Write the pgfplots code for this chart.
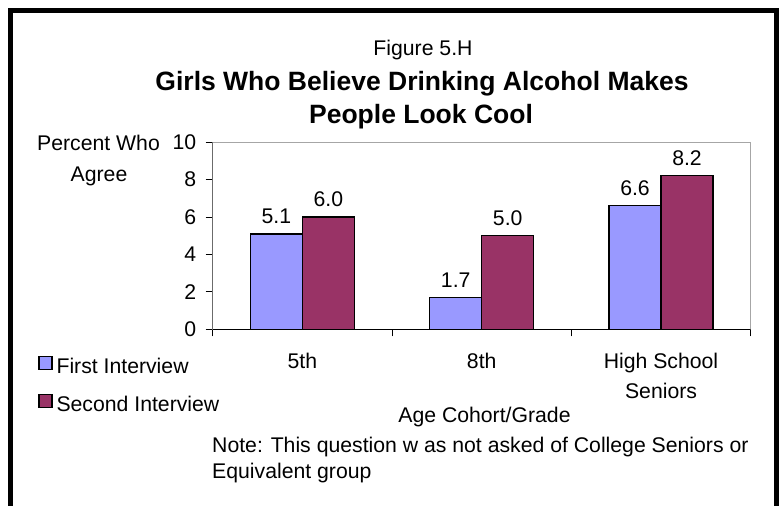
\documentclass[border=0pt]{standalone}
\usepackage{pgfplots}
\pgfplotsset{compat=1.18}
\usepackage{fontspec}
\setmainfont{Liberation Sans}
\definecolor{bluebar}{HTML}{9999FF}
\definecolor{plumbar}{HTML}{993366}
\begin{document}
\begin{tikzpicture}
\useasboundingbox (0,0) rectangle (783bp,-506bp);
\draw[line width=5bp] (10bp,-10bp) rectangle (776bp,-540bp);
\begin{axis}[
  at={(212.7bp,-329.3bp)}, anchor=south west,
  scale only axis, width=538bp, height=187.3bp,
  xmin=-0.5, xmax=2.5, ymin=0, ymax=10,
  ytick={0,2,...,10},
  xtick={-0.5,0.5,1.5,2.5}, xticklabels={},
  extra x ticks={0,1,2},
  extra x tick labels={5th,8th,{High School\\Seniors}},
  extra x tick style={major tick length=0pt},
  tick align=outside, major tick length=7bp,
  xtick pos=bottom, ytick pos=left,
  axis line style={draw=gray!70, line width=0.8bp},
  tick style={black, line width=0.8bp},
  /pgf/number format/assume math mode=true,
  tick label style={font=\fontsize{21.3}{30}\selectfont},
  xticklabel style={align=center, yshift=-20bp},
  yticklabel style={xshift=-6bp},
  ybar=0pt, bar width=52bp,
  legend image code/.code={\draw[#1,line width=1.2bp] (0bp,-3bp) rectangle (13bp,10bp);},
  legend style={at={(axis description cs:-0.33,-0.13)}, anchor=north west, draw=none, fill=none,
    font=\fontsize{21.3}{25}\selectfont, row sep=17bp, nodes={inner xsep=4bp}},
  legend cell align=left,
  nodes near coords={\pgfmathprintnumber[fixed,fixed zerofill,precision=1]{\pgfplotspointmeta}},
  every node near coord/.append style={font=\fontsize{21.3}{25}\selectfont, inner sep=0pt, yshift=9bp, black},
]
\addplot[fill=bluebar, draw=black, line width=1.5bp] coordinates {(0,5.1) (1,1.7) (2,6.6)};
\addplot[fill=plumbar, draw=black, line width=1.5bp] coordinates {(0,6.0) (1,5.0) (2,8.2)};
\legend{First Interview, Second Interview}
\draw[black, line width=0.8bp] (rel axis cs:0,1) -- (rel axis cs:0,0) -- (rel axis cs:1,0);
\end{axis}
\begin{scope}[every node/.style={inner sep=0pt, font=\fontsize{21.3}{25}\selectfont}]
\node[anchor=base] at (423bp,-55bp) {Figure 5.H};
\node[anchor=base, font=\bfseries\fontsize{26.6}{30}\selectfont] at (422bp,-90bp) {Girls Who Believe Drinking Alcohol Makes};
\node[anchor=base, font=\bfseries\fontsize{26.6}{30}\selectfont] at (421bp,-123bp) {People Look Cool};
\node[anchor=base] at (98.5bp,-150bp) {Percent Who};
\node[anchor=base] at (99bp,-181bp) {Agree};
\node[anchor=base] at (484.5bp,-422bp) {Age Cohort/Grade};
\node[anchor=base west] at (212bp,-452bp) {Note: This question w as not asked of College Seniors or};
\node[anchor=base west] at (212bp,-478bp) {Equivalent group};
\end{scope}
\end{tikzpicture}
\end{document}
